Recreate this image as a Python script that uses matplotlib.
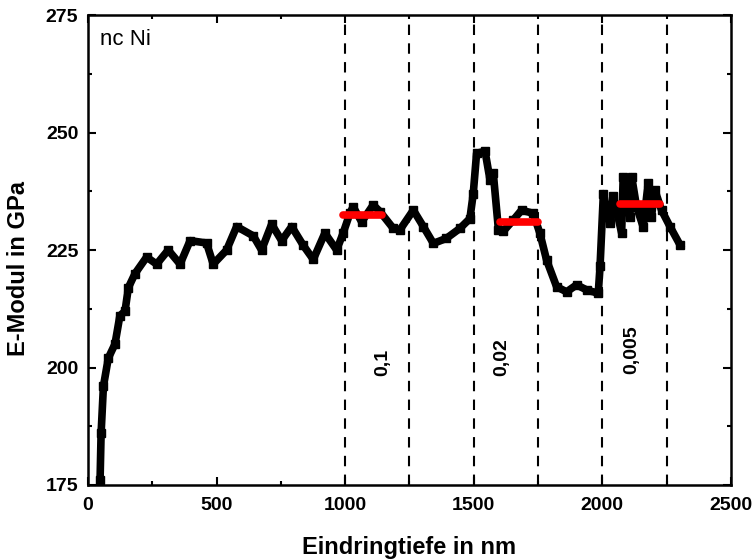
import matplotlib
matplotlib.use("Agg")
import matplotlib.pyplot as plt

plt.rcParams['font.family'] = ['Liberation Sans', 'DejaVu Sans']

# E-Modul over indentation depth
depth = [47, 51, 60, 79, 105, 124, 144, 157, 183, 228, 267, 312, 358, 397, 461,
         487, 539, 578, 643, 675, 714, 753, 792, 837, 876, 921, 967, 992,
         1019, 1031, 1064, 1109, 1135, 1187, 1213, 1265, 1304, 1343, 1394, 1446,
         1485, 1498, 1511, 1544, 1563, 1576, 1596, 1615, 1654, 1686, 1731, 1757,
         1783, 1822, 1861, 1900, 1939, 1984, 1991, 2004, 2030, 2043, 2075, 2081,
         2107, 2114, 2133, 2159, 2178, 2191, 2204, 2230, 2263, 2302]
modul = [176, 186, 196, 202, 205, 211, 212, 217, 220, 223.5, 222, 225, 222, 227, 226.5,
         222, 225, 230, 228, 225, 230.5, 227, 230, 226, 223, 228.6, 225, 228.6,
         232.9, 234.2, 231, 234.6, 233.2, 229.6, 229.3, 233.5, 230, 226.4, 227.5, 229.6,
         231.7, 237, 245.6, 246, 240, 241.3, 229.3, 229, 231.4, 233.5, 232.8, 228.6,
         222.9, 217.2, 216.1, 217.6, 216.5, 215.8, 221.5, 237, 230.7, 236.4, 228.6, 240.6,
         232.1, 240.6, 234.2, 229.9, 239.2, 232.1, 237.8, 233.5, 230, 226.1]

# mean values in the three ranges
mean_x = [(993, 1142), (1602, 1750), (2068, 2224)]
mean_y = [232.4, 231.0, 234.7]

bounds = [1000, 1250, 1500, 1750, 2000, 2250]
labels = ["0,1", "0,02", "0,005"]
label_x = [1147, 1610, 2115]
label_y = [201.0, 202.2, 203.7]

fig = plt.figure(figsize=(7.52, 5.59), dpi=100)
ax = fig.add_axes([0.117, 0.1324, 0.855, 0.8406])

for b in bounds:
    ax.axvline(b, color='k', ls=(0, (5, 4)), lw=1.5, zorder=1)

ax.plot(depth, modul, color='k', lw=5.5, marker='s', ms=6, zorder=2)

for (x0, x1), m in zip(mean_x, mean_y):
    ax.plot([x0, x1], [m, m], color='red', lw=5.5, solid_capstyle='round', zorder=3)

for t, tx, ty in zip(labels, label_x, label_y):
    ax.text(tx, ty, t, rotation=90, ha='center', va='center',
            fontsize=14, fontweight='bold')

ax.text(45, 269.7, "nc Ni", fontsize=16, va='center')

ax.set_xlim(0, 2500)
ax.set_ylim(175, 275)
ax.set_xticks(range(0, 2501, 500))
ax.set_xticks(range(0, 2501, 250), minor=True)
ax.set_yticks(range(175, 276, 25))
ax.set_yticks([175 + 12.5 * i for i in range(9)], minor=True)
ax.tick_params(which='both', direction='in', top=True, right=True, width=1.5)
ax.tick_params(which='major', length=6, labelsize=14)
ax.tick_params(axis='x', which='major', pad=9)
ax.tick_params(axis='y', which='major', pad=7)
ax.tick_params(which='minor', length=3)
for lab in ax.get_xticklabels() + ax.get_yticklabels():
    lab.set_fontweight('bold')
for s in ax.spines.values():
    s.set_linewidth(1.8)

ax.set_xlabel("Eindringtiefe in nm", fontsize=17, fontweight='bold')
ax.set_ylabel("E-Modul in GPa", fontsize=17, fontweight='bold')
ax.xaxis.set_label_coords(0.5, -0.108)
ax.yaxis.set_label_coords(-0.09, 0.46)

fig.savefig("out.png", dpi=100)
